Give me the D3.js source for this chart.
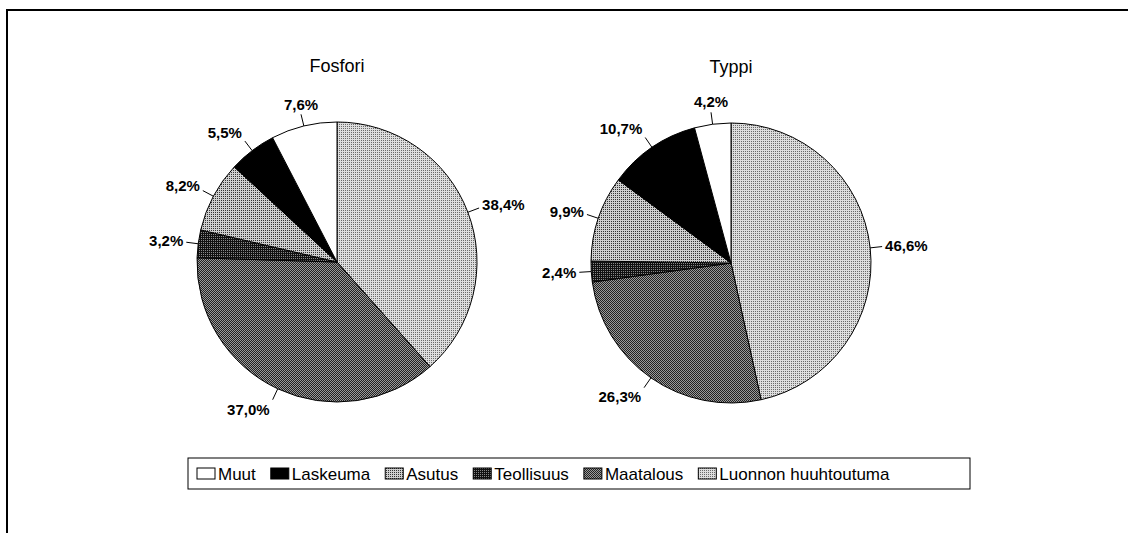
<!DOCTYPE html>
<html>
<head>
<meta charset="utf-8">
<script src="https://cdn.jsdelivr.net/npm/d3@7"></script>
<style>
  body { margin: 0; background: #fff; }
  svg { display: block; }
  text { font-family: "Liberation Sans", Arial, sans-serif; fill: #000; }
</style>
</head>
<body>
<svg id="chart" width="1128" height="533"></svg>
<script>
// slices clockwise from 12 o'clock
const categories = ["Luonnon huuhtoutuma", "Maatalous", "Teollisuus", "Asutus", "Laskeuma", "Muut"]
const fosforiValues = [38.4, 37.0, 3.2, 8.2, 5.5, 7.6]
const typpiValues = [46.6, 26.3, 2.4, 9.9, 10.7, 4.2]
const chartTitles = ["Fosfori", "Typpi"]
const legendOrder = ["Muut", "Laskeuma", "Asutus", "Teollisuus", "Maatalous", "Luonnon huuhtoutuma"]

const svg = d3.select("#chart")
const defs = svg.append("defs")

// frame round the whole chart (only top and left show)
svg.append("rect")
  .attr("x", 7).attr("y", 10)
  .attr("width", 1200).attr("height", 600)
  .attr("fill", "none").attr("stroke", "#000").attr("stroke-width", 2)

// halftone-ish fills like the scanned original
function addPattern(id, bg, dots, dotColor) {
  const p = defs.append("pattern")
    .attr("id", id)
    .attr("patternUnits", "userSpaceOnUse")
    .attr("width", 2).attr("height", 2)
  p.append("rect").attr("width", 2).attr("height", 2).attr("fill", bg)
  dots.forEach(([x, y]) => {
    p.append("rect").attr("x", x).attr("y", y).attr("width", 1).attr("height", 1).attr("fill", dotColor)
  })
}
addPattern("pat_luonnon", "#dedede", [[0, 0]], "#6a6a6a")
addPattern("pat_maatalous", "#9a9a9a", [[0, 0], [1, 1]], "#222")
addPattern("pat_teollisuus", "#111", [[0, 0]], "#888")
addPattern("pat_asutus", "#cfcfcf", [[0, 0]], "#333")

const fillFor = {
  "Luonnon huuhtoutuma": "url(#pat_luonnon)",
  "Maatalous": "url(#pat_maatalous)",
  "Teollisuus": "url(#pat_teollisuus)",
  "Asutus": "url(#pat_asutus)",
  "Laskeuma": "#000",
  "Muut": "#fff"
}

const radius = 140
const pieCenters = [[337, 262], [731, 263]]
const fmt = v => d3.format(".1f")(v).replace(".", ",") + "%"

const pie = d3.pie().sort(null).value(d => d.value)
const arc = d3.arc().innerRadius(0).outerRadius(radius)

function drawPie(values, title, center) {
  const data = categories.map((c, i) => ({ name: c, value: values[i] }))
  const g = svg.append("g").attr("transform", `translate(${center[0]},${center[1]})`)

  g.append("text")
    .attr("x", 0).attr("y", -radius - 50)
    .attr("text-anchor", "middle")
    .style("font-size", "18px")
    .text(title)

  const arcs = pie(data)
  g.selectAll("path.slice")
    .data(arcs)
    .enter()
    .append("path")
    .attr("class", "slice")
    .attr("d", arc)
    .attr("fill", d => fillFor[d.data.name])
    .attr("stroke", "#000")
    .attr("stroke-width", 1)

  arcs.forEach(d => {
    const mid = (d.startAngle + d.endAngle) / 2
    const s = Math.sin(mid), c = Math.cos(mid)
    const r1 = radius + 12
    const ex = s * r1, ey = -c * r1

    g.append("line")
      .attr("x1", s * radius).attr("y1", -c * radius)
      .attr("x2", ex).attr("y2", ey)
      .attr("stroke", "#000").attr("stroke-width", 1)

    const label = g.append("text")
      .attr("text-anchor", "middle")
      .style("font-size", "15px")
      .style("font-weight", "bold")
      .text(fmt(d.data.value))
    const w = label.node().getComputedTextLength()
    const h = 11
    // excel-like: label box touches the leader end
    const cx = Math.abs(s) < 0.35 ? ex : ex + Math.sign(s) * (w / 2 + 3)
    const cy = ey - c * (h / 2 + 5)
    label.attr("x", cx).attr("y", cy + h / 2)
  })
}

drawPie(fosforiValues, chartTitles[0], pieCenters[0])
drawPie(typpiValues, chartTitles[1], pieCenters[1])

// legend
const legendBox = { x: 188, y: 458, w: 782, h: 31 }
svg.append("rect")
  .attr("x", legendBox.x).attr("y", legendBox.y)
  .attr("width", legendBox.w).attr("height", legendBox.h)
  .attr("fill", "#fff").attr("stroke", "#000").attr("stroke-width", 1)

let lx = legendBox.x + 9
legendOrder.forEach(name => {
  svg.append("rect")
    .attr("x", lx).attr("y", legendBox.y + 10)
    .attr("width", 18).attr("height", 11)
    .attr("fill", fillFor[name])
    .attr("stroke", "#000").attr("stroke-width", 1)
  const t = svg.append("text")
    .attr("x", lx + 21).attr("y", legendBox.y + 22)
    .style("font-size", "17px")
    .text(name)
  lx += 21 + t.node().getComputedTextLength() + 15
})
</script>
</body>
</html>
